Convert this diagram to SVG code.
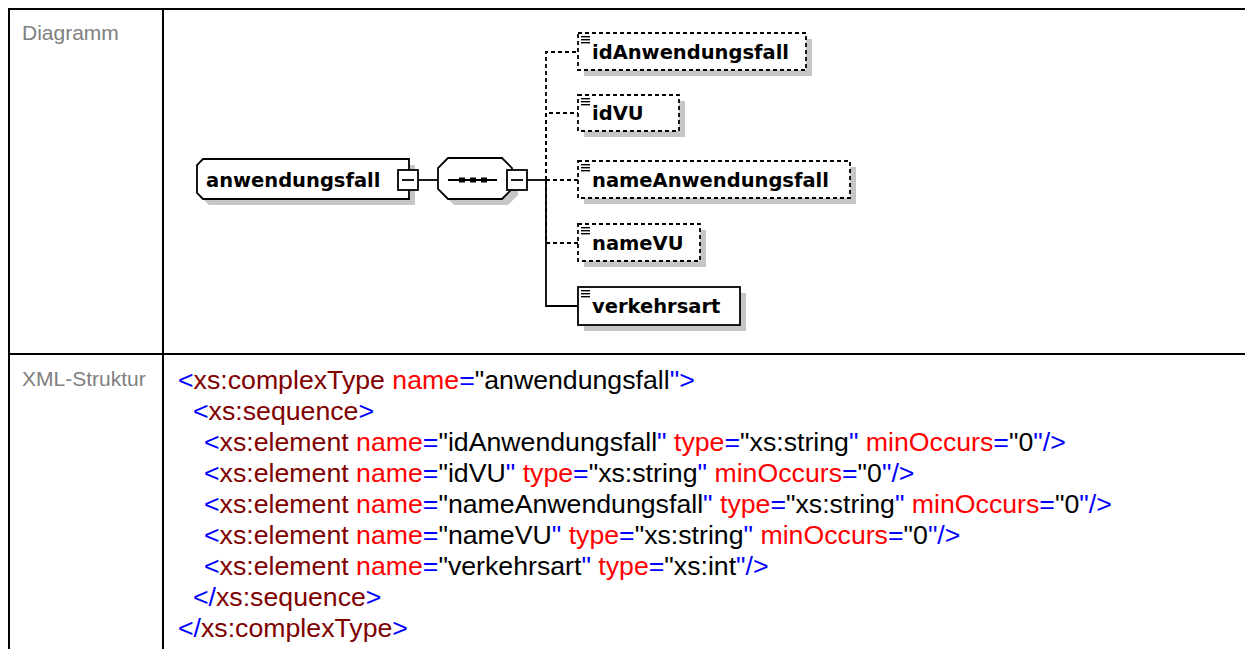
<svg xmlns="http://www.w3.org/2000/svg" width="1245" height="649" viewBox="0 0 1245 649">
  <style>
    .grid { stroke: #000; stroke-width: 2; fill: none; }
    .lbl { font-family: "Liberation Sans", Arial, sans-serif; font-size: 21px; fill: #808080; }
    .code { font-family: "Liberation Sans", Arial, sans-serif; font-size: 26.7px; fill: #000; }
    .b { fill: #0000ff; }
    .t { fill: #800000; }
    .a { fill: #ff0000; }
    .nm { font-family: "DejaVu Sans", Verdana, sans-serif; font-weight: bold; font-size: 19.5px; fill: #000; }
    .box { fill: #fff; stroke: #000; stroke-width: 1.8; }
    .opt { stroke-dasharray: 4 3; }
    .shadow { fill: #c6c6c6; stroke: none; }
    .wire { stroke: #000; stroke-width: 1.8; fill: none; }
    .dash { stroke-dasharray: 4 3; }
    .icon { stroke: #000; stroke-width: 1.4; }
  </style>
  <defs>
    <g id="elicon">
      <line class="icon" x1="0" y1="0.7" x2="9" y2="0.7"/>
      <line class="icon" x1="0" y1="3.7" x2="9" y2="3.7"/>
      <line class="icon" x1="0" y1="6.7" x2="9" y2="6.7"/>
    </g>
  </defs>
  <rect width="1245" height="649" fill="#fff"/>

  <!-- table frame -->
  <g id="table">
    <line class="grid" x1="8" y1="9" x2="1245" y2="9"/>
    <line class="grid" x1="9" y1="8" x2="9" y2="649"/>
    <line class="grid" x1="163" y1="8" x2="163" y2="649"/>
    <line class="grid" x1="8" y1="354" x2="1245" y2="354"/>
    <text class="lbl" x="22" y="40">Diagramm</text>
    <text class="lbl" x="22" y="386">XML-Struktur</text>
  </g>

  <!-- connectors -->
  <g id="connectors">
    <line class="wire" x1="418" y1="180" x2="438" y2="180"/>
    <line class="wire" x1="527" y1="180" x2="546" y2="180"/>
    <path class="wire dash" d="M546 180 V52 H578"/>
    <path class="wire dash" d="M546 180 V113 H578"/>
    <line class="wire dash" x1="546" y1="180" x2="578" y2="180"/>
    <path class="wire dash" d="M546 180 V243 H578"/>
    <path class="wire" d="M546 180 V306 H578"/>
  </g>

  <!-- root element -->
  <g id="node-anwendungsfall">
    <path class="shadow" d="M209 165 H415 V205 H209 L203 199 V171 Z"/>
    <path class="box" d="M203 159 H409 V199 H203 L197 193 V165 Z"/>
    <text class="nm" x="206" y="187">anwendungsfall</text>
    <rect class="box" x="398" y="170" width="20" height="20"/>
    <line class="wire" x1="402" y1="180" x2="414" y2="180"/>
  </g>

  <!-- sequence compositor -->
  <g id="node-sequence">
    <path class="shadow" d="M454 164 H508 L518 174 V195 L508 205 H454 L444 195 V174 Z"/>
    <path class="box" d="M448 158 H502 L512 168 V189 L502 199 H448 L438 189 V168 Z"/>
    <line class="wire" x1="448" y1="180" x2="497" y2="180"/>
    <rect x="459" y="177.5" width="6" height="5" fill="#000"/>
    <rect x="470" y="177.5" width="6" height="5" fill="#000"/>
    <rect x="481" y="177.5" width="6" height="5" fill="#000"/>
    <rect class="box" x="507" y="170" width="20" height="20"/>
    <line class="wire" x1="511" y1="180" x2="523" y2="180"/>
  </g>

  <g id="node-idAnwendungsfall">
    <rect class="shadow" x="584" y="39" width="228" height="37"/>
    <rect class="box opt" x="578" y="33" width="228" height="37"/>
    <use href="#elicon" x="581" y="36"/>
    <text class="nm" x="592" y="59">idAnwendungsfall</text>
  </g>

  <g id="node-idVU">
    <rect class="shadow" x="584" y="101" width="101" height="36"/>
    <rect class="box opt" x="578" y="95" width="101" height="36"/>
    <use href="#elicon" x="581" y="98"/>
    <text class="nm" x="592" y="120">idVU</text>
  </g>

  <g id="node-nameAnwendungsfall">
    <rect class="shadow" x="584" y="167" width="272" height="37"/>
    <rect class="box opt" x="578" y="161" width="272" height="37"/>
    <use href="#elicon" x="581" y="164"/>
    <text class="nm" x="592" y="187">nameAnwendungsfall</text>
  </g>

  <g id="node-nameVU">
    <rect class="shadow" x="584" y="230" width="122" height="37"/>
    <rect class="box opt" x="578" y="224" width="122" height="37"/>
    <use href="#elicon" x="581" y="227"/>
    <text class="nm" x="592" y="250">nameVU</text>
  </g>

  <g id="node-verkehrsart">
    <rect class="shadow" x="584" y="293" width="162" height="38"/>
    <rect class="box" x="578" y="287" width="162" height="38"/>
    <use href="#elicon" x="581" y="290"/>
    <text class="nm" x="592" y="313">verkehrsart</text>
  </g>

  <!-- schema source -->
  <g id="source" class="code">
    <text x="178" y="389"><tspan class="b">&lt;</tspan><tspan class="t">xs:complexType</tspan> <tspan class="a">name</tspan><tspan class="b">=</tspan>"anwendungsfall<tspan class="b">"&gt;</tspan></text>
    <text x="193" y="420"><tspan class="b">&lt;</tspan><tspan class="t">xs:sequence</tspan><tspan class="b">&gt;</tspan></text>
    <text x="204" y="451"><tspan class="b">&lt;</tspan><tspan class="t">xs:element</tspan> <tspan class="a">name</tspan><tspan class="b">=</tspan>"idAnwendungsfall<tspan class="b">"</tspan> <tspan class="a">type</tspan><tspan class="b">=</tspan>"xs:string<tspan class="b">"</tspan> <tspan class="a">minOccurs</tspan><tspan class="b">=</tspan>"0<tspan class="b">"/&gt;</tspan></text>
    <text x="204" y="482"><tspan class="b">&lt;</tspan><tspan class="t">xs:element</tspan> <tspan class="a">name</tspan><tspan class="b">=</tspan>"idVU<tspan class="b">"</tspan> <tspan class="a">type</tspan><tspan class="b">=</tspan>"xs:string<tspan class="b">"</tspan> <tspan class="a">minOccurs</tspan><tspan class="b">=</tspan>"0<tspan class="b">"/&gt;</tspan></text>
    <text x="204" y="513"><tspan class="b">&lt;</tspan><tspan class="t">xs:element</tspan> <tspan class="a">name</tspan><tspan class="b">=</tspan>"nameAnwendungsfall<tspan class="b">"</tspan> <tspan class="a">type</tspan><tspan class="b">=</tspan>"xs:string<tspan class="b">"</tspan> <tspan class="a">minOccurs</tspan><tspan class="b">=</tspan>"0<tspan class="b">"/&gt;</tspan></text>
    <text x="204" y="544"><tspan class="b">&lt;</tspan><tspan class="t">xs:element</tspan> <tspan class="a">name</tspan><tspan class="b">=</tspan>"nameVU<tspan class="b">"</tspan> <tspan class="a">type</tspan><tspan class="b">=</tspan>"xs:string<tspan class="b">"</tspan> <tspan class="a">minOccurs</tspan><tspan class="b">=</tspan>"0<tspan class="b">"/&gt;</tspan></text>
    <text x="204" y="575"><tspan class="b">&lt;</tspan><tspan class="t">xs:element</tspan> <tspan class="a">name</tspan><tspan class="b">=</tspan>"verkehrsart<tspan class="b">"</tspan> <tspan class="a">type</tspan><tspan class="b">=</tspan>"xs:int<tspan class="b">"/&gt;</tspan></text>
    <text x="193" y="606"><tspan class="b">&lt;/</tspan><tspan class="t">xs:sequence</tspan><tspan class="b">&gt;</tspan></text>
    <text x="178" y="637"><tspan class="b">&lt;/</tspan><tspan class="t">xs:complexType</tspan><tspan class="b">&gt;</tspan></text>
  </g>
</svg>
